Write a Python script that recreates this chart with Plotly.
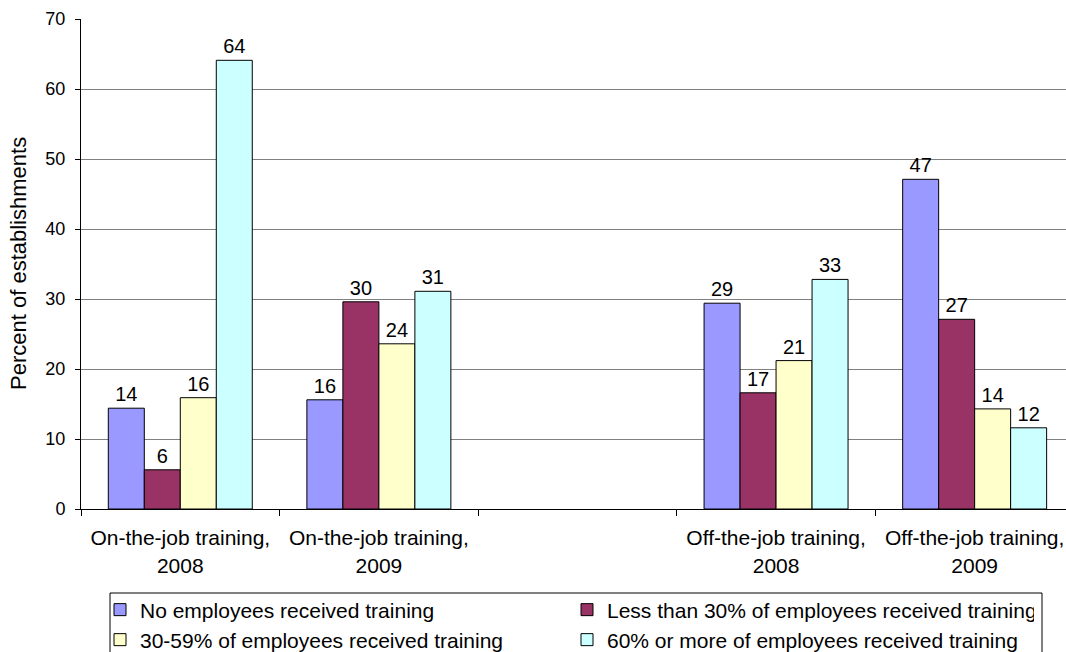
import plotly.graph_objects as go

categories = ["On-the-job training,<br>2008", "On-the-job training,<br>2009", " ",
              "Off-the-job training,<br>2008", "Off-the-job training,<br>2009"]
series_names = ["No employees received training",
                "Less than 30% of employees received training",
                "30-59% of employees received training",
                "60% or more of employees received training"]
none_trained = [14.4, 15.6, None, 29.4, 47.1]
less_30 = [5.6, 29.6, None, 16.6, 27.1]
pct_30_59 = [15.9, 23.6, None, 21.2, 14.3]
pct_60_plus = [64.1, 31.1, None, 32.8, 11.6]
labels = [["14", "16", "", "29", "47"],
          ["6", "30", "", "17", "27"],
          ["16", "24", "", "21", "14"],
          ["64", "31", "", "33", "12"]]
colors = ["#9999FF", "#993366", "#FFFFCC", "#CCFFFF"]
values = [none_trained, less_30, pct_30_59, pct_60_plus]
legend_ids = ["legend", "legend", "legend2", "legend2"]

FONT = "Liberation Sans, Arial, sans-serif"

fig = go.Figure()
for name, vals, col, lab, lg in zip(series_names, values, colors, labels, legend_ids):
    fig.add_trace(go.Bar(
        x=categories, y=vals, name=name, text=lab, legend=lg,
        textposition="outside", cliponaxis=False,
        textfont=dict(family=FONT, size=20, color="black"),
        marker=dict(color=col, line=dict(color="black", width=1)),
    ))

# plot area: x 81..(beyond 1066), y 19..509
def px_x(px):
    return (px - 81) / 985.0

def px_y(py):
    return (509 - py) / 490.0

legend_common = dict(orientation="h", xanchor="left", yanchor="middle",
                     borderwidth=0, bgcolor="rgba(0,0,0,0)", entrywidth=422,
                     font=dict(family=FONT, size=21, color="black"),
                     traceorder="normal")

fig.update_layout(
    width=1066, height=652,
    margin=dict(l=81, r=0, t=19, b=143, autoexpand=False),
    paper_bgcolor="white", plot_bgcolor="white",
    barmode="group", bargap=0.275, bargroupgap=0,
    font=dict(family=FONT, size=20, color="black"),
    showlegend=True,
    legend=dict(x=px_x(100), y=px_y(610), **legend_common),
    legend2=dict(x=px_x(100), y=px_y(640), **legend_common),
)
fig.update_xaxes(type="category", range=[-0.5, 4.46], tickson="boundaries",
                 ticks="outside", ticklen=6, tickcolor="black",
                 showline=True, linecolor="black", linewidth=1,
                 tickfont=dict(size=21), ticklabelstandoff=10)
fig.update_yaxes(range=[0, 70], dtick=10, showgrid=True, gridcolor="#808080", gridwidth=1,
                 ticks="outside", ticklen=5, tickcolor="black",
                 showline=True, linecolor="black", linewidth=1,
                 tickfont=dict(size=18), zeroline=False, ticklabelstandoff=6)
fig.add_annotation(text="Percent of establishments", xref="paper", yref="paper",
                   x=px_x(18), y=0.5, xanchor="center", yanchor="middle",
                   textangle=-90, showarrow=False, font=dict(size=22))
# legend frame
fig.add_shape(type="rect", xref="paper", yref="paper",
              x0=px_x(110), x1=px_x(1042), y0=px_y(593), y1=px_y(670),
              line=dict(color="black", width=1), fillcolor="rgba(0,0,0,0)", layer="above")

fig.write_html("out.html")
